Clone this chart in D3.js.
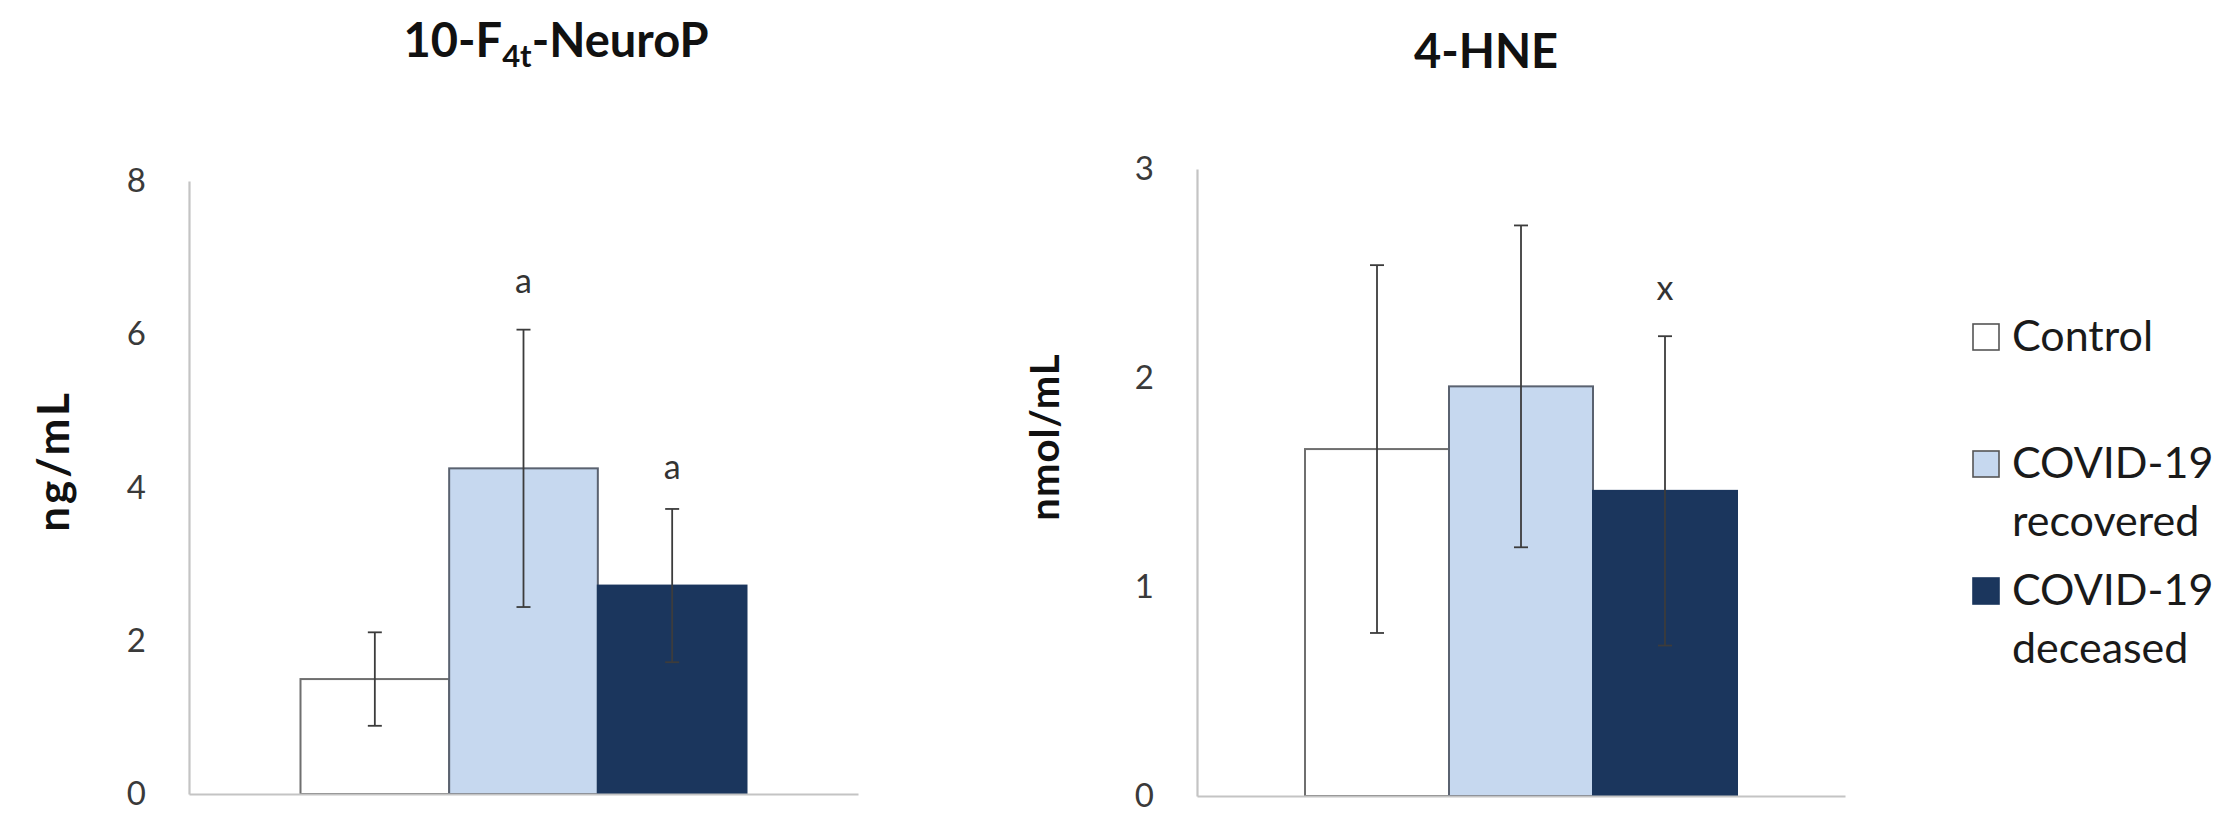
<!DOCTYPE html>
<html>
<head>
<meta charset="utf-8">
<script src="https://cdn.jsdelivr.net/npm/d3@7"></script>
<style>
  html, body { margin: 0; padding: 0; background: #ffffff; }
  svg { display: block; }
  text { font-family: Lato, "Open Sans", sans-serif; }
</style>
</head>
<body>
<svg id="chart" width="2230" height="837"></svg>
<script>
// ---------------- data ----------------
const categories = ["Control", "COVID-19 recovered", "COVID-19 deceased"];
const legendLines = [["Control"], ["COVID-19", "recovered"], ["COVID-19", "deceased"]];
const colors = ["#ffffff", "#c6d8ef", "#1b365d"];
const strokes = ["#6f6f6f", "#5a6270", "#1b365d"];

const neuropMean = [1.50, 4.25, 2.72];
const neuropErr = [0.61, 1.81, 1.00];
const neuropLetters = ["", "a", "a"];
const neuropLetterY = [null, 6.67, 4.24];
const neuropTicks = [0, 2, 4, 6, 8];

const hneMean = [1.66, 1.96, 1.46];
const hneErr = [0.88, 0.77, 0.74];
const hneLetters = ["", "", "x"];
const hneLetterY = [null, null, 2.42];
const hneTicks = [0, 1, 2, 3];

// ---------------- drawing ----------------
const svg = d3.select("#chart");

function panel(opts) {
  const g = svg.append("g");
  const y = d3.scaleLinear().domain([0, opts.max]).range([opts.bottom, opts.top]);
  const x0 = d3.scaleBand().domain(["group"]).range([opts.left, opts.right]).padding(0.2);
  const x1 = d3.scaleBand().domain(categories).range([0, x0.bandwidth()]).padding(0);
  const bx = c => x0("group") + x1(c);

  // axes
  const yAxis = d3.axisLeft(y).tickValues(opts.ticks).tickSize(0).tickSizeOuter(0).tickPadding(43)
    .tickFormat(d3.format("d"));
  const ya = g.append("g").attr("transform", `translate(${opts.left},0)`).call(yAxis);
  ya.select(".domain").attr("stroke", "#c4c4c4").attr("stroke-width", 2.2);
  ya.selectAll("text").attr("font-size", 33).attr("fill", "#3a3a3a")
    .attr("font-family", "Lato, sans-serif");

  // bars
  const data = categories.map((c, i) => ({ c, i, m: opts.mean[i], e: opts.err[i] }));
  g.selectAll("rect.bar").data(data).enter().append("rect")
    .attr("class", "bar")
    .attr("x", d => bx(d.c))
    .attr("width", x1.bandwidth())
    .attr("y", d => y(d.m))
    .attr("height", d => y(0) - y(d.m))
    .attr("fill", d => colors[d.i])
    .attr("stroke", d => strokes[d.i])
    .attr("stroke-width", 2);

  // x axis baseline
  const xa = d3.axisBottom(x0).tickSize(0).tickFormat("");
  const xg = g.append("g").attr("transform", `translate(0,${y(0)})`).call(xa);
  xg.select(".domain").attr("stroke", "#c4c4c4").attr("stroke-width", 2.2);

  // error bars
  const eg = g.selectAll("g.err").data(data).enter().append("g").attr("class", "err")
    .attr("stroke", "#3c3c3c").attr("stroke-width", 1.8);
  const cx = d => bx(d.c) + x1.bandwidth() / 2;
  eg.append("line").attr("x1", cx).attr("x2", cx)
    .attr("y1", d => y(d.m + d.e)).attr("y2", d => y(d.m - d.e));
  eg.append("line").attr("x1", d => cx(d) - 7).attr("x2", d => cx(d) + 7)
    .attr("y1", d => y(d.m + d.e)).attr("y2", d => y(d.m + d.e));
  eg.append("line").attr("x1", d => cx(d) - 7).attr("x2", d => cx(d) + 7)
    .attr("y1", d => y(d.m - d.e)).attr("y2", d => y(d.m - d.e));

  // significance letters
  g.selectAll("text.sig").data(data.filter(d => opts.letters[d.i])).enter().append("text")
    .attr("class", "sig")
    .attr("x", cx)
    .attr("y", d => y(opts.letterY[d.i]))
    .attr("dy", "0.3em")
    .attr("text-anchor", "middle")
    .attr("font-size", 34)
    .attr("fill", "#333333")
    .text(d => opts.letters[d.i]);

  // y label
  g.append("text")
    .attr("transform", `translate(${opts.ylabX},${opts.ylabY}) rotate(-90)`)
    .attr("text-anchor", "middle")
    .attr("dy", "0.35em")
    .attr("font-size", opts.ylabSize)
    .attr("font-weight", 700)
    .attr("letter-spacing", opts.ylabSpacing)
    .attr("fill", "#111111")
    .text(opts.ylabel);

  return g;
}

const left = panel({
  left: 189, right: 858, top: 181, bottom: 794, max: 8,
  ticks: neuropTicks, mean: neuropMean, err: neuropErr,
  letters: neuropLetters, letterY: neuropLetterY,
  ylabel: "ng/mL", ylabX: 54, ylabY: 461, ylabSize: 44, ylabSpacing: 3
});
const right = panel({
  left: 1197, right: 1845, top: 169, bottom: 796, max: 3,
  ticks: hneTicks, mean: hneMean, err: hneErr,
  letters: hneLetters, letterY: hneLetterY,
  ylabel: "nmol/mL", ylabX: 1045, ylabY: 437, ylabSize: 40, ylabSpacing: 1
});

// titles
const t1 = svg.append("text").attr("x", 556).attr("y", 57).attr("text-anchor", "middle")
  .attr("font-size", 47).attr("font-weight", 700).attr("fill", "#111111");
t1.append("tspan").text("10-F");
t1.append("tspan").attr("font-size", 31).attr("dy", 10).text("4t");
t1.append("tspan").attr("dy", -10).text("-NeuroP");

svg.append("text").attr("x", 1486).attr("y", 68).attr("text-anchor", "middle")
  .attr("font-size", 47).attr("font-weight", 700).attr("fill", "#111111").text("4-HNE");

// legend
const legendTop = [351, 478, 605];
const lg = svg.append("g");
legendLines.forEach((lines, i) => {
  lg.append("rect")
    .attr("x", 1973).attr("y", legendTop[i] - 27).attr("width", 26).attr("height", 26)
    .attr("fill", colors[i]).attr("stroke", i === 2 ? colors[2] : "#555555").attr("stroke-width", 1.6);
  lines.forEach((ln, j) => {
    lg.append("text").attr("x", 2012).attr("y", legendTop[i] + j * 58)
      .attr("font-size", 43).attr("fill", "#1a1a1a").text(ln);
  });
});
</script>
</body>
</html>
